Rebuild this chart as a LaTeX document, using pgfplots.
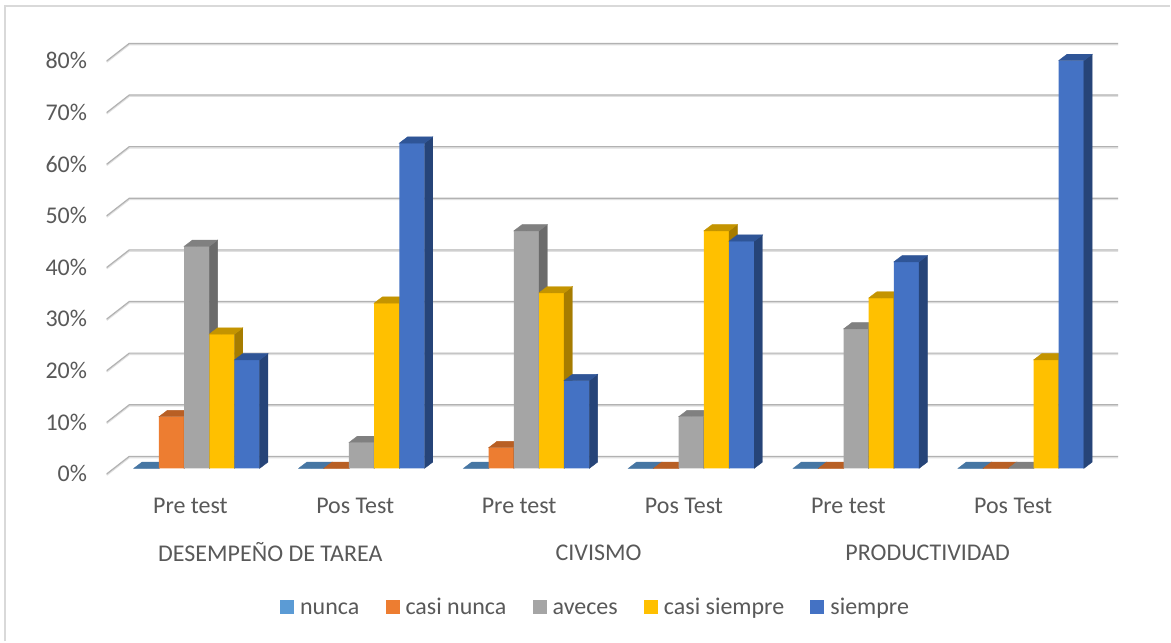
\documentclass[border=0pt]{standalone}
\usepackage{pgfplots}
\usepackage{pgfplotstable}
\usepackage{fontspec}
\setmainfont{Carlito}
\pgfplotsset{compat=1.18}
\definecolor{cA}{HTML}{5B9BD5}\definecolor{cAt}{HTML}{4676A3}\definecolor{cAs}{HTML}{3A6287}
\definecolor{cB}{HTML}{ED7D31}\definecolor{cBt}{HTML}{B85F24}\definecolor{cBs}{HTML}{9C5020}
\definecolor{cC}{HTML}{A5A5A5}\definecolor{cCt}{HTML}{808080}\definecolor{cCs}{HTML}{6B6B6B}
\definecolor{cD}{HTML}{FFC000}\definecolor{cDt}{HTML}{C49400}\definecolor{cDs}{HTML}{A67C00}
\definecolor{cE}{HTML}{4472C4}\definecolor{cEt}{HTML}{2F5597}\definecolor{cEs}{HTML}{264478}
\definecolor{txt}{HTML}{595959}
\pgfplotstableread{
x y
146.4 0
311.4 0
476.4 0
641.4 0
806.4 0
971.4 0
}\nunca
\pgfplotstableread{
x y
171.6 10
336.6 0
501.6 4
666.6 0
831.6 0
996.6 0
}\casinunca
\pgfplotstableread{
x y
196.8 43
361.8 5
526.8 46
691.8 10
856.8 27
1021.8 0
}\aveces
\pgfplotstableread{
x y
222.0 26
387.0 32
552.0 34
717.0 46
882.0 33
1047.0 21
}\casisiempre
\pgfplotstableread{
x y
247.2 21
412.2 63
577.2 17
742.2 44
907.2 40
1072.2 79
}\siempre
\pgfplotsset{
  fr/.style={ybar, bar width=25.2pt, bar shift=0pt, draw=none, fill=#1,
    legend image code/.code={\fill[#1] (0pt,-7pt) rectangle (14pt,7pt); \path (18pt,0pt);}},
  faces/.style 2 args={scatter, only marks, forget plot, mark=*, mark size=0pt,
    visualization depends on={\thisrow{y}*5.167 \as \hpx},
    scatter/@pre marker code/.code={\scope
      \fill[#2] (12.6pt,0pt)--(20.9pt,6.3pt)--(20.9pt,{(6.3-\hpx)*1pt})--(12.6pt,{-\hpx*1pt})--cycle;
      \fill[#1] (-12.6pt,0pt)--(12.6pt,0pt)--(20.9pt,6.3pt)--(-4.3pt,6.3pt)--cycle;},
    scatter/@post marker code/.code={\endscope}},
}
\newcommand\wallline[2]{%
  \addplot[forget plot, no markers, line width=1.6pt, color=black!12, yshift=-1.1pt] coordinates {(106.7,#1)(129.3,#2)(1119,#2)};
  \addplot[forget plot, no markers, line width=1.2pt, color=black!30] coordinates {(106.7,#1)(129.3,#2)(1119,#2)};
}
\begin{document}
\begin{tikzpicture}
\begin{axis}[
  width=1171pt, height=642pt, scale only axis, clip=false, clip mode=individual,
  xmin=0, xmax=1171, ymin=-33.54, ymax=90.71,
  axis line style={draw=none}, major tick length=0pt,
  axis background/.style={fill=white},
  font=\fontsize{24}{26}\selectfont,
  tick label style={text=txt, font=\fontsize{24}{26}\selectfont},
  ytick={0,10,20,30,40,50,60,70,80},
  yticklabels={0\%,10\%,20\%,30\%,40\%,50\%,60\%,70\%,80\%},
  yticklabel style={anchor=east, xshift=90.5pt, yshift=-5.4pt},
  xtick={190.5,355.5,519.5,684.5,849,1014},
  xticklabels={Pre test,Pos Test,Pre test,Pos Test,Pre test,Pos Test},
  xticklabel style={anchor=center, yshift=136.2pt},
  extra x ticks={270.5,599,928.5},
  extra x tick labels={DESEMPEÑO DE TAREA,CIVISMO,PRODUCTIVIDAD},
  extra x tick style={xticklabel style={anchor=center, yshift=-47pt}},
  legend columns=5,
  legend style={at={(axis cs:596,-26.77)}, anchor=center, draw=none, fill=none,
    font=\fontsize{24}{26}\selectfont, text=txt,
    nodes={text height=20pt, text depth=4pt},
    /tikz/every even column/.append style={column sep=24.25pt}},
  legend cell align=left,
]
\addplot[forget plot, no markers, draw=gray!30, line width=2pt] coordinates {(5,-33.54)(5,89.49)(1171,89.49)};
\wallline{-1.08}{2.32}
\wallline{8.92}{12.32}
\wallline{18.92}{22.32}
\wallline{28.92}{32.32}
\wallline{38.92}{42.32}
\wallline{48.92}{52.32}
\wallline{58.92}{62.32}
\wallline{68.92}{72.32}
\wallline{78.92}{82.32}
\addplot[fr=cA] table[x=x,y=y] {\nunca}; \addlegendentry{nunca}
\addplot[faces={cAt}{cAs}] table[x=x,y=y] {\nunca};
\addplot[fr=cB] table[x=x,y=y] {\casinunca}; \addlegendentry{casi nunca}
\addplot[faces={cBt}{cBs}] table[x=x,y=y] {\casinunca};
\addplot[fr=cC] table[x=x,y=y] {\aveces}; \addlegendentry{aveces}
\addplot[faces={cCt}{cCs}] table[x=x,y=y] {\aveces};
\addplot[fr=cD] table[x=x,y=y] {\casisiempre}; \addlegendentry{casi siempre}
\addplot[faces={cDt}{cDs}] table[x=x,y=y] {\casisiempre};
\addplot[fr=cE] table[x=x,y=y] {\siempre}; \addlegendentry{siempre}
\addplot[faces={cEt}{cEs}] table[x=x,y=y] {\siempre};
\end{axis}
\end{tikzpicture}
\end{document}
